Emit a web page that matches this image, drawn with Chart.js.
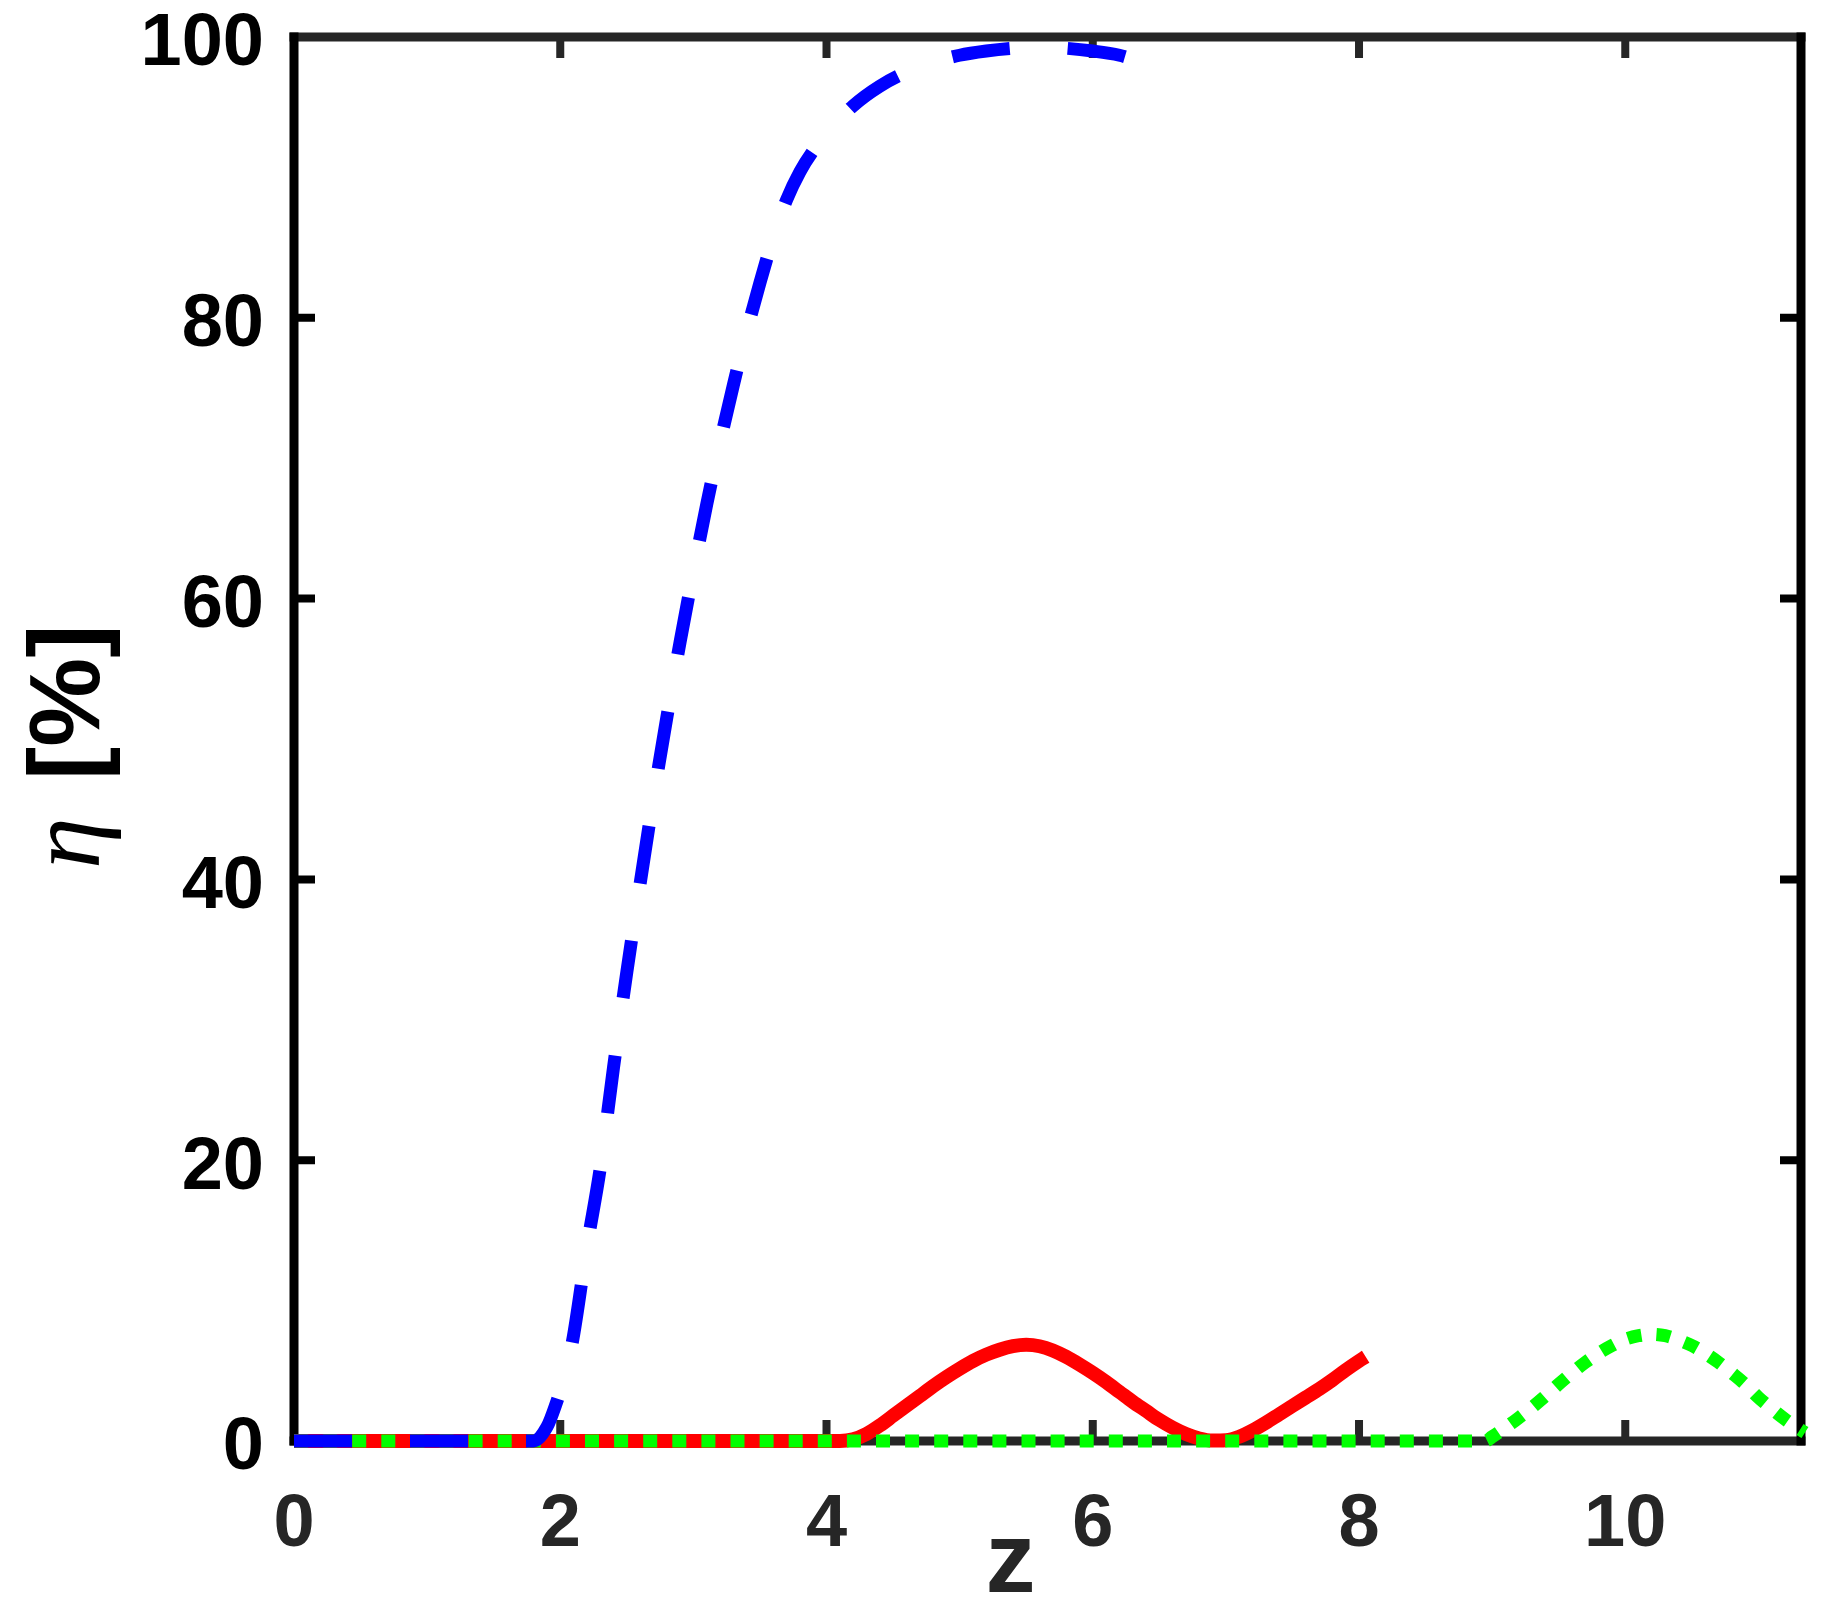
<!DOCTYPE html>
<html>
<head>
<meta charset="utf-8">
<script src="https://cdn.jsdelivr.net/npm/chart.js@4.4.1/dist/chart.umd.min.js"></script>
<style>
  html, body { margin: 0; padding: 0; background: #ffffff; }
  #wrap { width: 1822px; height: 1606px; position: relative; }
  canvas { display: block; }
</style>
</head>
<body>
<div id="wrap"><canvas id="c" width="1822" height="1606"></canvas></div>
<script>
// ---- data ----
const zBlue   = [0, 1.0, 1.8, 1.9, 1.97, 2.0, 2.09, 2.2, 2.3, 2.4, 2.5, 2.6, 2.7, 2.8, 2.9, 3.0, 3.1, 3.2, 3.3, 3.4, 3.5, 3.6, 3.7, 3.8, 3.9, 4.0, 4.2, 4.4, 4.6, 4.8, 5.0, 5.2, 5.4, 5.6, 5.8, 6.0, 6.2, 6.31];
const etaBlue = [0, 0, 0, 1.0, 2.7, 3.6, 7.0, 13.8, 19.4, 26.6, 33.4, 39.7, 45.8, 51.5, 56.9, 61.9, 66.7, 71.1, 75.2, 79.0, 82.5, 85.7, 88.4, 90.4, 91.9, 93.1, 95.1, 96.5, 97.5, 98.2, 98.7, 99.0, 99.2, 99.3, 99.2, 99.0, 98.7, 98.4];

const zRed   = [0, 2.0, 4.1, 4.2, 4.3, 4.4, 4.5, 4.6, 4.7, 4.8, 4.9, 5.0, 5.1, 5.2, 5.3, 5.4, 5.5, 5.6, 5.7, 5.8, 5.9, 6.0, 6.1, 6.2, 6.3, 6.4, 6.5, 6.6, 6.7, 6.8, 6.9, 7.0, 7.1, 7.2, 7.3, 7.4, 7.5, 7.6, 7.7, 7.8, 7.9, 8.0, 8.05];
const etaRed = [0, 0, 0, 0.12, 0.5, 1.1, 1.8, 2.5, 3.2, 3.9, 4.55, 5.15, 5.7, 6.15, 6.5, 6.75, 6.85, 6.75, 6.45, 6.0, 5.45, 4.85, 4.2, 3.5, 2.8, 2.15, 1.5, 0.95, 0.5, 0.18, 0.03, 0.05, 0.3, 0.75, 1.3, 1.9, 2.5, 3.1, 3.7, 4.35, 5.05, 5.7, 6.0];

const zGreen   = [0, 4.0, 8.95, 9.0, 9.1, 9.2, 9.3, 9.4, 9.5, 9.6, 9.7, 9.8, 9.9, 10.0, 10.1, 10.2, 10.3, 10.4, 10.5, 10.6, 10.7, 10.8, 10.9, 11.0, 11.1, 11.2, 11.3, 11.35];
const etaGreen = [0, 0, 0, 0.3, 0.95, 1.65, 2.4, 3.2, 4.05, 4.85, 5.6, 6.25, 6.8, 7.25, 7.5, 7.6, 7.5, 7.2, 6.8, 6.25, 5.6, 4.85, 4.05, 3.1, 2.3, 1.55, 0.9, 0.6];

const xTickValues = [0, 2, 4, 6, 8, 10];
const yTickValues = [0, 20, 40, 60, 80, 100];
const xMin = 0, xMax = 11.32;
const yMin = 0, yMax = 100;
const xTitle = 'z';
const yTitleSymbol = 'η';
const yTitleUnit = '[%]';

// ---- helpers ----
const toPoints = (xs, ys) => xs.map((x, i) => ({ x: x, y: ys[i] }));

const AXIS_W = 9, TICK_W = 8, TICK_LEN = 21;
const X_COLOR = '#262626', Y_COLOR = '#000000';

const matlabAxes = {
  id: 'matlabAxes',
  beforeDatasetsDraw(chart) {
    const { ctx, chartArea: a, scales } = chart;
    const xs = scales.x, ys = scales.y;
    ctx.save();
    ctx.lineCap = 'butt';
    ctx.lineWidth = TICK_W;
    ctx.strokeStyle = X_COLOR;
    xTickValues.forEach(v => {
      const px = xs.getPixelForValue(v);
      ctx.beginPath();
      ctx.moveTo(px, a.bottom); ctx.lineTo(px, a.bottom - TICK_LEN);
      ctx.moveTo(px, a.top); ctx.lineTo(px, a.top + TICK_LEN);
      ctx.stroke();
    });
    ctx.strokeStyle = Y_COLOR;
    yTickValues.forEach(v => {
      const py = ys.getPixelForValue(v);
      ctx.beginPath();
      ctx.moveTo(a.left, py); ctx.lineTo(a.left + TICK_LEN, py);
      ctx.moveTo(a.right, py); ctx.lineTo(a.right - TICK_LEN, py);
      ctx.stroke();
    });
    const h = AXIS_W / 2;
    ctx.lineWidth = AXIS_W;
    ctx.strokeStyle = X_COLOR;
    ctx.beginPath();
    ctx.moveTo(a.left - h, a.top); ctx.lineTo(a.right + h, a.top);
    ctx.moveTo(a.left - h, a.bottom); ctx.lineTo(a.right + h, a.bottom);
    ctx.stroke();
    ctx.strokeStyle = Y_COLOR;
    ctx.beginPath();
    ctx.moveTo(a.left, a.top - h); ctx.lineTo(a.left, a.bottom + h);
    ctx.moveTo(a.right, a.top - h); ctx.lineTo(a.right, a.bottom + h);
    ctx.stroke();
    ctx.restore();
  },
  afterDraw(chart) {
    const { ctx, chartArea: a } = chart;
    ctx.save();
    ctx.fillStyle = X_COLOR;
    ctx.font = 'bold 100px "Liberation Sans", Arial, sans-serif';
    ctx.textAlign = 'center';
    ctx.textBaseline = 'alphabetic';
    ctx.fillText(xTitle, (a.left + a.right) / 2 - 37, a.bottom + 151);
    const cy = (a.top + a.bottom) / 2 + 3;
    ctx.translate(99, cy);
    ctx.rotate(-Math.PI / 2);
    ctx.fillStyle = Y_COLOR;
    ctx.textAlign = 'left';
    ctx.font = 'italic 104px "Liberation Serif", "DejaVu Serif", serif';
    ctx.fillText(yTitleSymbol, -127, 0);
    ctx.font = 'bold 100px "Liberation Sans", Arial, sans-serif';
    ctx.fillText(yTitleUnit, -38, 0);
    ctx.restore();
  }
};

const tickFont = { family: '"Liberation Sans", Arial, sans-serif', weight: 'bold', size: 74, lineHeight: 1.2 };

new Chart(document.getElementById('c'), {
  type: 'line',
  data: {
    datasets: [
      {
        label: 'blue',
        data: toPoints(zBlue, etaBlue),
        borderColor: '#0000ff',
        borderWidth: 13,
        borderDash: [58, 58],
        borderCapStyle: 'butt',
        cubicInterpolationMode: 'monotone',
        pointRadius: 0,
        fill: false,
        clip: 8
      },
      {
        label: 'green',
        data: toPoints(zGreen, etaGreen),
        borderColor: '#00ff00',
        borderWidth: 13,
        borderDash: [14, 15.1],
        borderCapStyle: 'butt',
        cubicInterpolationMode: 'monotone',
        pointRadius: 0,
        fill: false,
        clip: 8
      },
      {
        label: 'red',
        data: toPoints(zRed, etaRed),
        borderColor: '#ff0000',
        borderWidth: 14,
        borderCapStyle: 'butt',
        borderJoinStyle: 'round',
        cubicInterpolationMode: 'monotone',
        pointRadius: 0,
        fill: false,
        clip: 8
      }
    ]
  },
  options: {
    responsive: false,
    animation: false,
    devicePixelRatio: 1,
    layout: { padding: { left: 0, right: 21, top: 37, bottom: 0 } },
    plugins: { legend: { display: false }, tooltip: { enabled: false } },
    scales: {
      x: {
        type: 'linear',
        position: 'bottom',
        min: xMin,
        max: xMax,
        afterBuildTicks: s => { s.ticks = xTickValues.map(v => ({ value: v })); },
        afterFit: s => { s.height = 165; s.paddingLeft = 0; s.paddingRight = 0; },
        ticks: {
          font: tickFont,
          color: X_COLOR,
          padding: 40,
          maxRotation: 0,
          minRotation: 0,
          autoSkip: false,
          includeBounds: false,
          callback: v => String(v)
        },
        grid: { display: false, drawTicks: false },
        border: { display: false }
      },
      y: {
        type: 'linear',
        position: 'left',
        min: yMin,
        max: yMax,
        afterBuildTicks: s => { s.ticks = yTickValues.map(v => ({ value: v })); },
        afterFit: s => { s.width = 294; s.paddingTop = 0; s.paddingBottom = 0; },
        ticks: {
          font: tickFont,
          color: Y_COLOR,
          padding: 30,
          labelOffset: 8,
          autoSkip: false,
          includeBounds: false,
          callback: v => String(v)
        },
        grid: { display: false, drawTicks: false },
        border: { display: false }
      }
    }
  },
  plugins: [matlabAxes]
});
</script>
</body>
</html>
